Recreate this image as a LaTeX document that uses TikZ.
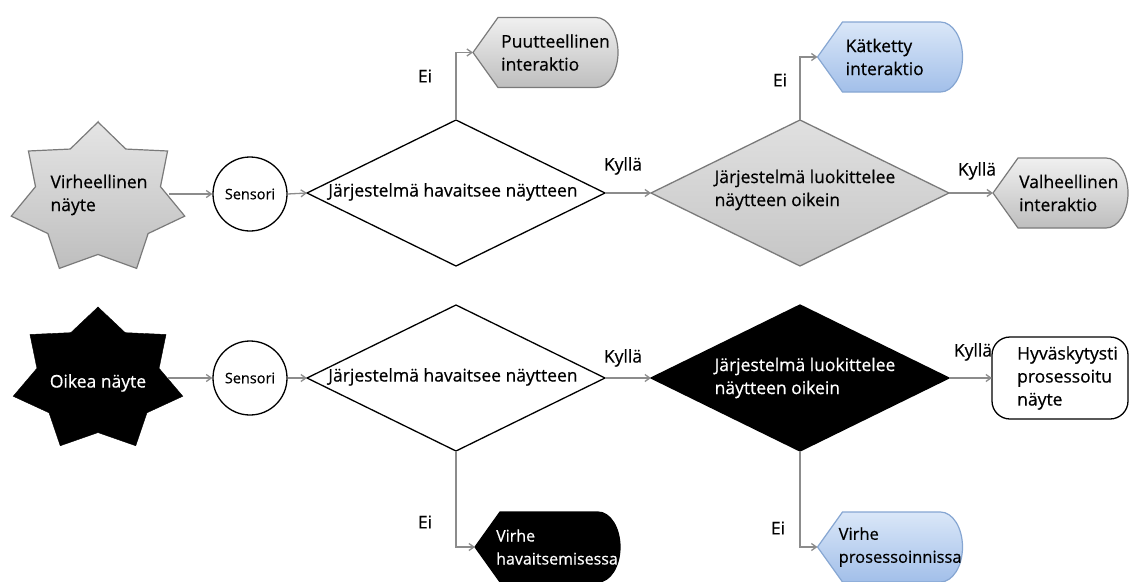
\documentclass[tikz,border=0pt]{standalone}
\usepackage{fontspec}
\setmainfont{Open Sans}[FakeBold=0.5]
\usetikzlibrary{shapes.geometric,arrows.meta,backgrounds}
\hyphenpenalty=10000
\definecolor{connc}{HTML}{8C8C8C}
\definecolor{gtop}{HTML}{F0F0F0}
\definecolor{gbot}{HTML}{BEBEBE}
\definecolor{gedge}{HTML}{7A7A7A}
\definecolor{dtop}{HTML}{E0E0E0}
\definecolor{dbot}{HTML}{C6C6C6}
\definecolor{btop}{HTML}{DAE7F8}
\definecolor{bbot}{HTML}{A2BFE9}
\definecolor{bedge}{HTML}{86A6D2}

\newcommand\dispout[2]{%
 \begin{scope}[on background layer]
 \draw[#2] (#1.west) -- ([xshift=25pt]#1.north west) -- ([xshift=-22pt]#1.north east)
   arc[start angle=90,end angle=-90,x radius=22pt,y radius=35pt]
   -- ([xshift=25pt]#1.south west) -- cycle;
 \end{scope}}

\newcommand\starpath[5]{%
 \draw[#5] (#1,#2+#4)
  \foreach \k [evaluate=\k as \xi using #1+0.72*#3*cos(90+\k*360/7+180/7),
               evaluate=\k as \yi using #2+0.72*#4*sin(90+\k*360/7+180/7),
               evaluate=\k as \xo using #1+#3*cos(90+\k*360/7+360/7),
               evaluate=\k as \yo using #2+#4*sin(90+\k*360/7+360/7)] in {0,...,6} {
   -- (\xi,\yi) -- (\xo,\yo) } -- cycle;}

\tikzset{
 arr/.style={draw=connc, line width=1.3pt, -{Straight Barb[length=5pt,width=7pt]}},
 sensor/.style={circle, draw=black, line width=1.3pt, minimum size=74pt, inner sep=0pt, fill=white, font=\fontsize{14.5}{16}\selectfont},
 dia/.style={diamond, minimum width=298pt, minimum height=146pt, inner sep=0pt, outer sep=0pt, line width=1.3pt},
 dbox/.style={rectangle, minimum width=145pt, minimum height=70pt, inner sep=0pt, outer sep=0pt},
 txt/.style={align=left, inner sep=0pt},
 lbl/.style={inner sep=0pt},
 graydisp/.style={draw=gedge, line width=1.2pt, top color=gtop, bottom color=gbot},
 bluedisp/.style={draw=bedge, line width=1.2pt, top color=btop, bottom color=bbot},
 blackdisp/.style={draw=black, line width=1.2pt, fill=black}
}

\begin{document}
\begin{tikzpicture}[x=1pt,y=1pt, every node/.append style={font=\fontsize{17.5}{23}\selectfont}]
\useasboundingbox (0,0) rectangle (1135,-581);

% ---------- top row ----------
\starpath{98}{-199}{89}{77}{draw=gedge, line width=1.2pt, top color=gtop!90!gray, bottom color=gbot}
\node[txt, minimum width=140pt] (s1) at (99,-195) {Virheellinen\\näyte};
\node[sensor] (sen1) at (250,-194) {Sensori};
\node[dia, draw=black, fill=white] (d1) at (456,-193) {};
\node[txt] (d1t) at (453,-192) {Järjestelmä havaitsee näytteen};
\node[dia, draw=gedge, top color=dtop, bottom color=dbot] (d2) at (800,-193) {};
\node[txt] (d2t) at (805,-190) {Järjestelmä luokittelee\\näytteen oikein};

\node[dbox] (p1) at (545.5,-52.5) {};
\dispout{p1}{graydisp}
\node[txt, anchor=west] (p1t) at ([xshift=28pt]p1.west) {Puutteellinen\\interaktio};

\node[dbox] (k1) at (890,-57) {};
\dispout{k1}{bluedisp}
\node[txt, anchor=west] (k1t) at ([xshift=28pt]k1.west) {Kätketty\\interaktio};

\node[dbox, minimum width=135pt] (v1) at (1060.5,-193) {};
\dispout{v1}{graydisp}
\node[txt, anchor=west] (v1t) at ([xshift=26pt]v1.west) {Valheellinen\\interaktio};

\draw[arr] (sen1.west -| s1.east) -- (sen1.west);
\draw[arr] (sen1.east) -- (d1.west);
\draw[arr] (d1.east) -- (d2.west);
\draw[arr] (d1.north) |- (p1.west);
\draw[arr] (d2.north) |- (k1.west);
\draw[arr] (d2.east) -- (v1.west);
\node[lbl] (ky1) at (623,-166) {Kyllä};
\node[lbl] (ei1) at (425,-76) {Ei};
\node[lbl] (ei2) at (780,-80) {Ei};
\node[lbl] (ky2) at (977,-171) {Kyllä};

% ---------- bottom row ----------
\starpath{98}{-380}{87}{73}{draw=black, fill=black}
\node[txt, minimum width=140pt, text=white] (s2) at (98,-383) {Oikea näyte};
\node[sensor] (sen2) at (250,-378) {Sensori};
\node[dia, draw=black, fill=white] (d3) at (456,-378) {};
\node[txt] (d3t) at (453,-377) {Järjestelmä havaitsee näytteen};
\node[dia, draw=black, fill=black] (d4) at (800,-378) {};
\node[txt, text=white] (d4t) at (805,-378) {Järjestelmä luokittelee\\näytteen oikein};

\node[draw=black, line width=1.3pt, rounded corners=18pt, fill=white, minimum width=136pt, minimum height=82pt, inner sep=0pt, outer sep=0pt] (h1) at (1060,-378) {};
\node[txt, anchor=west] (h1t) at ([xshift=25pt]h1.west) {Hyväskytysti\\prosessoitu\\näyte};

\node[dbox] (vh) at (547.5,-547) {};
\dispout{vh}{blackdisp}
\node[txt, anchor=west, text=white, font=\fontsize{16}{23}\selectfont] (vht) at ([xshift=21pt]vh.west) {Virhe\\havaitsemisessa};

\node[dbox] (vp) at (890,-547) {};
\dispout{vp}{bluedisp}
\node[txt, anchor=west, font=\fontsize{16.5}{23}\selectfont] (vpt) at ([xshift=21pt]vp.west) {Virhe\\prosessoinnissa};

\draw[arr] (sen2.west -| s2.east) -- (sen2.west);
\draw[arr] (sen2.east) -- (d3.west);
\draw[arr] (d3.east) -- (d4.west);
\draw[arr] (d4.east) -- (h1.west);
\draw[arr] (d3.south) |- (vh.west);
\draw[arr] (d4.south) |- (vp.west);
\node[lbl] (ky3) at (623,-358) {Kyllä};
\node[lbl] (ky4) at (973,-352) {Kyllä};
\node[lbl] (ei3) at (425,-522) {Ei};
\node[lbl] (ei4) at (778,-528) {Ei};
\end{tikzpicture}
\end{document}
